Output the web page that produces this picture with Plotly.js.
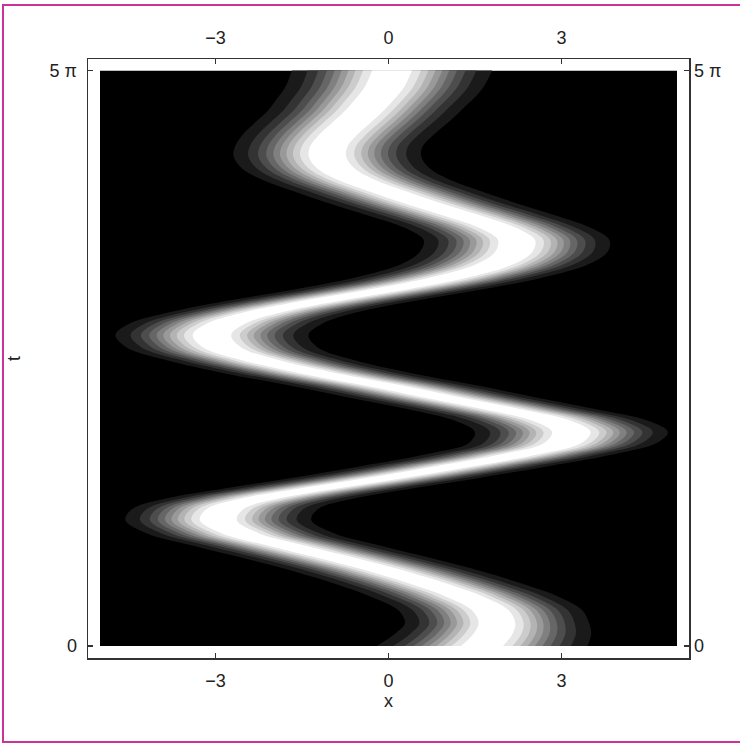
<!DOCTYPE html>
<html>
<head>
<meta charset="utf-8">
<script src="https://cdn.plot.ly/plotly-3.0.1.min.js"></script>
<style>
  html, body { margin: 0; padding: 0; background: #fff; overflow: hidden; }
  #chart { width: 740px; height: 743px; }
  #edge {
    position: absolute; left: 2px; top: 4px; width: 740px; height: 735px;
    border-left: 2px solid #cc3399; border-top: 2px solid #cc3399; border-bottom: 2px solid #cc3399;
    pointer-events: none;
  }
</style>
</head>
<body>
<div id="chart"></div>
<div id="edge"></div>
<script>
// Packet trajectory: time samples, centre of the density ridge, and its spread
const tSamples = [0, 0.33, 0.63, 0.98, 1.34, 1.67, 2.02, 2.38, 2.73, 3.08, 3.44, 3.74, 4.04, 4.31, 4.59,
  4.91, 5.24, 5.54, 5.84, 6.14, 6.47, 6.80, 7.13, 7.45, 7.81, 8.16, 8.49, 8.79, 9.09, 9.42, 9.72,
  10.07, 10.43, 10.76, 11.08, 11.41, 11.74, 12.07, 12.39, 12.72, 13.05, 13.38, 13.65, 13.98, 14.31,
  14.63, 14.96, 15.29, 15.71];
const ridgeX = [1.62, 1.81, 1.88, 1.76, 1.33, 0.75, 0.03, -0.84, -1.74, -2.57, -2.95, -2.83, -2.19, -1.19, -0.06,
  1.15, 2.30, 3.02, 3.17, 2.84, 1.95, 0.89, -0.15, -1.22, -2.23, -2.89, -3.06, -2.83, -2.23, -1.19, -0.06,
  1.07, 1.85, 2.17, 2.22, 1.90, 1.30, 0.63, 0.03, -0.55, -0.92, -1.06, -1.03, -0.86, -0.63,
  -0.41, -0.22, -0.06, 0.06];
const spread = [1.18, 1.10, 1.03, 1.03, 1.05, 1.05, 1.05, 1.05, 1.05, 1.05, 1.04, 1.04, 1.05, 1.05, 1.05,
  1.05, 1.05, 1.05, 1.08, 1.08, 1.05, 1.05, 1.05, 1.05, 1.05, 1.07, 1.08, 1.08, 1.05, 1.05, 1.05,
  1.05, 1.05, 1.05, 1.04, 1.04, 1.05, 1.05, 1.05, 1.05, 1.05, 1.05, 1.05, 1.07, 1.08,
  1.08, 1.10, 1.11, 1.12];

// plotted domain of the density
const xBounds = [-5, 5];
const tBounds = [0, 5 * Math.PI];

const xTicks = [-3, 0, 3];
const xTickText = ['\u22123', '0', '3'];
const tTicks = [0, 5 * Math.PI];
const tTickText = ['0', '5 \u03c0'];

// ten equally spaced density levels between 0 and the peak, shaded black -> white
const nLevels = 10;

const traces = [{
  type: 'scatter', mode: 'lines',
  x: [xBounds[0], xBounds[1], xBounds[1], xBounds[0]],
  y: [tBounds[0], tBounds[0], tBounds[1], tBounds[1]],
  fill: 'toself', fillcolor: '#000', line: { width: 0 },
  hoverinfo: 'skip', showlegend: false
}];

for (let k = 1; k <= nLevels; k++) {
  const level = k / (nLevels + 1);
  // exp(-u^2) = level  ->  u = sqrt(-ln level)
  const u = Math.sqrt(-Math.log(level));
  const g = Math.round(255 * k / nLevels);
  const shade = `rgb(${g},${g},${g})`;
  const left = ridgeX.map((c, i) => c - spread[i] * u);
  const right = ridgeX.map((c, i) => c + spread[i] * u);
  traces.push({
    type: 'scatter', mode: 'lines', x: left, y: tSamples,
    line: { width: 0, shape: 'spline', smoothing: 1 }, hoverinfo: 'skip', showlegend: false
  });
  traces.push({
    type: 'scatter', mode: 'lines', x: right, y: tSamples,
    fill: 'tonextx', fillcolor: shade,
    line: { width: 0, shape: 'spline', smoothing: 1 }, hoverinfo: 'skip', showlegend: false
  });
}

traces.push({
  type: 'scatter', x: [xTicks[1]], y: [tTicks[0]], xaxis: 'x2', yaxis: 'y2',
  mode: 'markers', marker: { opacity: 0 }, hoverinfo: 'skip', showlegend: false
});

const tickFont = { family: 'Liberation Sans, Arial, sans-serif', size: 18, color: '#222' };
const frameColor = '#333';
const xRange = [-5.208, 5.208];
const tRange = [-0.328, 16.027];

const layout = {
  width: 740, height: 743,
  margin: { l: 88, r: 51, t: 59, b: 85 },
  paper_bgcolor: '#fff', plot_bgcolor: '#fff',
  showlegend: false,
  xaxis: {
    range: xRange, showgrid: false, zeroline: false,
    showline: true, mirror: true, linecolor: frameColor, linewidth: 1.5,
    ticks: 'inside', ticklen: 5, tickwidth: 1.5, tickcolor: frameColor,
    tickvals: xTicks, ticktext: xTickText, tickfont: tickFont, ticklabelstandoff: 6,
    title: { text: 'x', font: tickFont, standoff: 0 }
  },
  xaxis2: {
    overlaying: 'x', side: 'top', range: xRange, showgrid: false, zeroline: false, showline: false,
    ticks: 'inside', ticklen: 5, tickwidth: 1.5, tickcolor: frameColor,
    tickvals: xTicks, ticktext: xTickText, tickfont: tickFont, ticklabelstandoff: 10
  },
  yaxis: {
    range: tRange, showgrid: false, zeroline: false,
    showline: true, mirror: true, linecolor: frameColor, linewidth: 1.5,
    ticks: 'inside', ticklen: 5, tickwidth: 1.5, tickcolor: frameColor,
    tickvals: tTicks, ticktext: tTickText, tickfont: tickFont, ticklabelstandoff: 6,
    title: { text: 't', font: tickFont, standoff: 24 }
  },
  yaxis2: {
    overlaying: 'y', side: 'right', range: tRange, showgrid: false, zeroline: false, showline: false,
    ticks: 'inside', ticklen: 5, tickwidth: 1.5, tickcolor: frameColor,
    tickvals: tTicks, ticktext: tTickText, tickfont: tickFont, ticklabelstandoff: 4
  }
};

Plotly.newPlot('chart', traces, layout, { staticPlot: true, displayModeBar: false });
</script>
</body>
</html>
